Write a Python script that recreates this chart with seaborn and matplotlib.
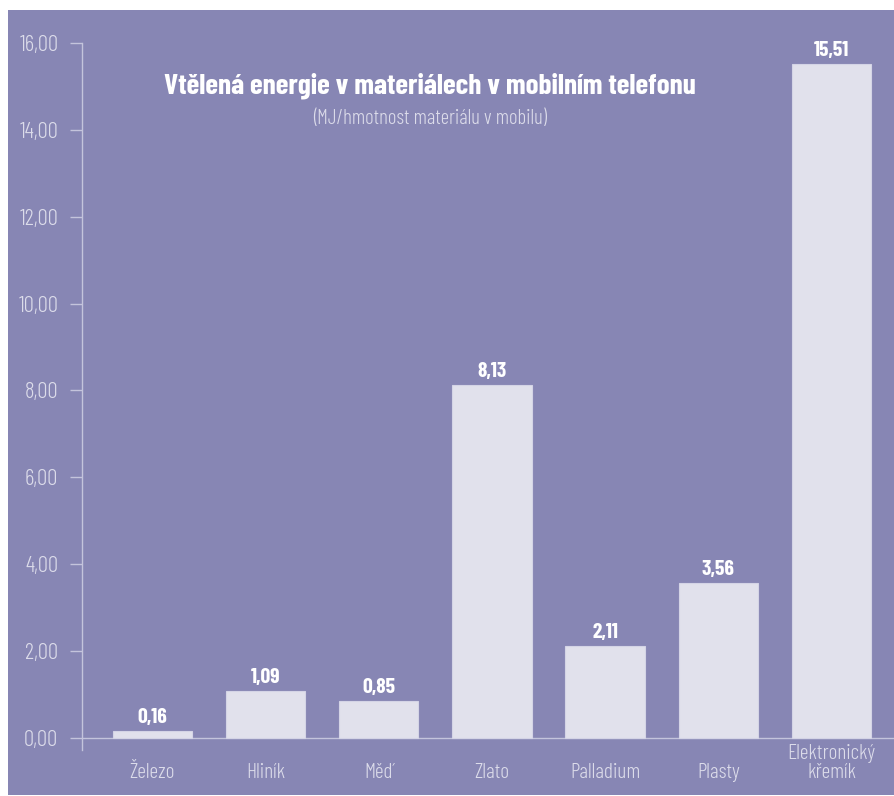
import matplotlib
matplotlib.use('Agg')
import matplotlib.pyplot as plt
import seaborn as sns
import pandas as pd
from matplotlib.patches import Rectangle

# data
materialy = ['Železo', 'Hliník', 'Měď', 'Zlato', 'Palladium', 'Plasty', 'Elektronický\nkřemík']
energie = [0.16, 1.09, 0.85, 8.13, 2.11, 3.56, 15.51]
y_ticks = [0, 2, 4, 6, 8, 10, 12, 14, 16]

df = pd.DataFrame({'material': materialy, 'energie': energie})

sns.set_style('white')
plt.rcParams['font.family'] = ['Barlow Condensed', 'Liberation Sans Narrow', 'DejaVu Sans']

bg = '#8786b4'
bar_col = '#e1e1ec'
txt_col = '#dcdcea'
line_col = '#c4c4dc'

fig = plt.figure(figsize=(8.95, 7.96), dpi=100)
fig.patch.set_facecolor('white')
fig.patches.append(Rectangle((8 / 895, 1 / 796), 887 / 895, 785 / 796,
                             transform=fig.transFigure, facecolor=bg,
                             edgecolor='none', zorder=-10))

ax = fig.add_axes([82 / 895, 46 / 796, 1 - 82 / 895, 707 / 796])
ax.set_facecolor('none')

sns.barplot(data=df, x='material', y='energie', color=bar_col, width=0.7,
            saturation=1, edgecolor='#d4d4e6', linewidth=0.8, ax=ax, zorder=3)

ax.set_xlim(-0.62, 6.56)
ax.set_ylim(-0.28, 16)
ax.axhline(0, color=line_col, lw=1, zorder=2)

# hodnoty nad sloupci
for i, v in enumerate(energie):
    ax.text(i, v + 0.09, f'{v:.2f}'.replace('.', ','), ha='center', va='bottom',
            color='white', fontsize=15.5, fontweight='bold')

ax.set_yticks(y_ticks)
ax.set_yticklabels([f'{t:.2f}'.replace('.', ',') for t in y_ticks])
ax.tick_params(axis='y', direction='out', length=9, width=1, color=line_col,
               labelcolor=txt_col, labelsize=16.5, pad=8, left=True)
ax.tick_params(axis='x', length=0, labelcolor=txt_col, labelsize=15.5, pad=23)
for lab in ax.get_yticklabels() + ax.get_xticklabels():
    lab.set_fontweight(300)
for lab in ax.get_xticklabels():
    lab.set_va('bottom')
    lab.set_linespacing(1.0)

for s in ['top', 'right', 'bottom']:
    ax.spines[s].set_visible(False)
ax.spines['left'].set_color(line_col)
ax.spines['left'].set_linewidth(1)

ax.set_xlabel('')
ax.set_ylabel('')

fig.text(430 / 895, 1 - 86 / 796, 'Vtělená energie v materiálech v mobilním telefonu',
         ha='center', va='center', color='white', fontsize=21, fontweight='bold')
fig.text(430 / 895, 1 - 118 / 796, '(MJ/hmotnost materiálu v mobilu)',
         ha='center', va='center', color=txt_col, fontsize=15, fontweight=300)

fig.savefig('out.png', dpi=100, facecolor=fig.get_facecolor())
